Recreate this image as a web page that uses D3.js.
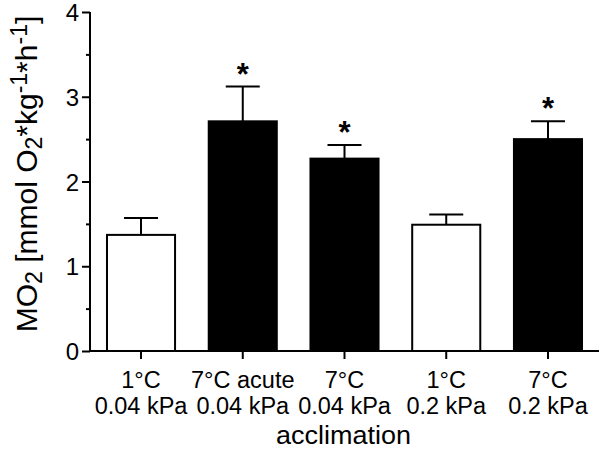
<!DOCTYPE html>
<html>
<head>
<meta charset="utf-8">
<script src="https://cdn.jsdelivr.net/npm/d3@7"></script>
<style>
  html, body { margin: 0; padding: 0; background: #fff; }
  svg { display: block; font-family: "Liberation Sans", Arial, Helvetica, sans-serif; }
</style>
</head>
<body>
<svg id="chart" width="600" height="449"></svg>
<script>
// ---- data ----
const categories = ["1°C|0.04 kPa", "7°C acute|0.04 kPa", "7°C|0.04 kPa", "1°C|0.2 kPa", "7°C|0.2 kPa"];
const temperature = [1, 7, 7, 1, 7];
const meanMO2 = [1.37, 2.71, 2.27, 1.49, 2.50];
const semMO2 = [0.20, 0.41, 0.16, 0.12, 0.21];
const significant = [false, true, true, false, true];
const yTicks = [0, 1, 2, 3, 4];
const yMinorTicks = [0.5, 1.5, 2.5, 3.5];
const xTitle = "acclimation";

const rows = categories.map((c, i) => ({
  cat: c, lines: c.split("|"), temp: temperature[i], mean: meanMO2[i], sem: semMO2[i], sig: significant[i]
}));

const svg = d3.select("#chart");
const x0 = 90, x1 = 599, yBottom = 351, yTop = 12;

const x = d3.scaleBand().domain(categories).range([x0, x1]).paddingInner(0.331).paddingOuter(0.167);
const y = d3.scaleLinear().domain([0, 4]).range([yBottom, yTop]);
const fill = d3.scaleOrdinal().domain([1, 7]).range(["#ffffff", "#000000"]);

// bars
svg.append("g").selectAll("rect").data(rows).join("rect")
  .attr("x", d => x(d.cat))
  .attr("y", d => y(d.mean))
  .attr("width", x.bandwidth())
  .attr("height", d => y(0) - y(d.mean))
  .attr("fill", d => fill(d.temp))
  .attr("stroke", "#000")
  .attr("stroke-width", 2);

// error bars
const eb = svg.append("g").attr("stroke", "#000").attr("stroke-width", 2);
eb.selectAll("line.v").data(rows).join("line").attr("class", "v")
  .attr("x1", d => x(d.cat) + x.bandwidth() / 2)
  .attr("x2", d => x(d.cat) + x.bandwidth() / 2)
  .attr("y1", d => y(d.mean))
  .attr("y2", d => y(d.mean + d.sem));
eb.selectAll("line.c").data(rows).join("line").attr("class", "c")
  .attr("x1", d => x(d.cat) + x.bandwidth() / 2 - 17)
  .attr("x2", d => x(d.cat) + x.bandwidth() / 2 + 17)
  .attr("y1", d => y(d.mean + d.sem))
  .attr("y2", d => y(d.mean + d.sem));

// significance stars
svg.append("g").selectAll("text").data(rows.filter(d => d.sig)).join("text")
  .attr("x", d => x(d.cat) + x.bandwidth() / 2)
  .attr("y", d => y(d.mean + d.sem) - 2)
  .attr("text-anchor", "middle")
  .attr("font-size", 31)
  .attr("font-weight", "bold")
  .text("*");

// y axis
const yAxisG = svg.append("g").attr("transform", `translate(${x0},0)`);
yAxisG.call(d3.axisLeft(y).tickValues(yTicks).tickSize(8).tickFormat(d3.format("d")));
yAxisG.call(g => g.select(".domain").attr("d", `M0,${yTop}V${yBottom}`).attr("stroke-width", 2));
yAxisG.selectAll(".tick line").attr("stroke-width", 2);
yAxisG.selectAll(".tick text").attr("font-size", 24).attr("fill", "#000")
  .attr("x", -11).attr("dy", "0.36em")
  .attr("font-family", "'Liberation Sans', Arial, sans-serif");
const yMinorG = svg.append("g").attr("transform", `translate(${x0},0)`);
yMinorG.call(d3.axisLeft(y).tickValues(yMinorTicks).tickSize(4).tickFormat(""));
yMinorG.select(".domain").remove();
yMinorG.selectAll(".tick line").attr("stroke-width", 2);

// x axis
const xAxisG = svg.append("g").attr("transform", `translate(0,${yBottom})`);
xAxisG.call(d3.axisBottom(x).tickSize(8).tickFormat(""));
xAxisG.select(".domain").attr("d", `M${x0},0H${x1}`).attr("stroke-width", 2);
xAxisG.selectAll(".tick line").attr("stroke-width", 2);

// x labels (two lines)
const xl = svg.append("g").selectAll("g").data(rows).join("g");
xl.each(function(d) {
  const g = d3.select(this);
  const cx = x(d.cat) + x.bandwidth() / 2;
  d.lines.forEach((t, k) => {
    g.append("text")
      .attr("transform", `translate(${cx},${388 + k * 26})`)
      .attr("text-anchor", "middle")
      .attr("font-size", 23.5)
      .text(t);
  });
});

// x title
svg.append("text")
  .attr("transform", `translate(${(x0 + x1) / 2 - 1},444) scale(1.08,1)`)
  .attr("text-anchor", "middle")
  .attr("font-size", 25)
  .text(xTitle);

// y title
const yt = svg.append("text")
  .attr("transform", `translate(37,174) rotate(-90)`)
  .attr("text-anchor", "middle")
  .attr("font-size", 30);
const parts = [["MO", null], ["2", "sub"], [" [mmol O", null], ["2", "sub"], ["*kg", null], ["-1", "sup"], ["*h", null], ["-1", "sup"], ["]", null]];
parts.forEach(([t, kind]) => {
  const ts = yt.append("tspan").text(t);
  if (kind === "sub") ts.attr("font-size", 23).attr("baseline-shift", "-22%");
  if (kind === "sup") ts.attr("font-size", 23).attr("baseline-shift", "45%");
});
</script>
</body>
</html>
